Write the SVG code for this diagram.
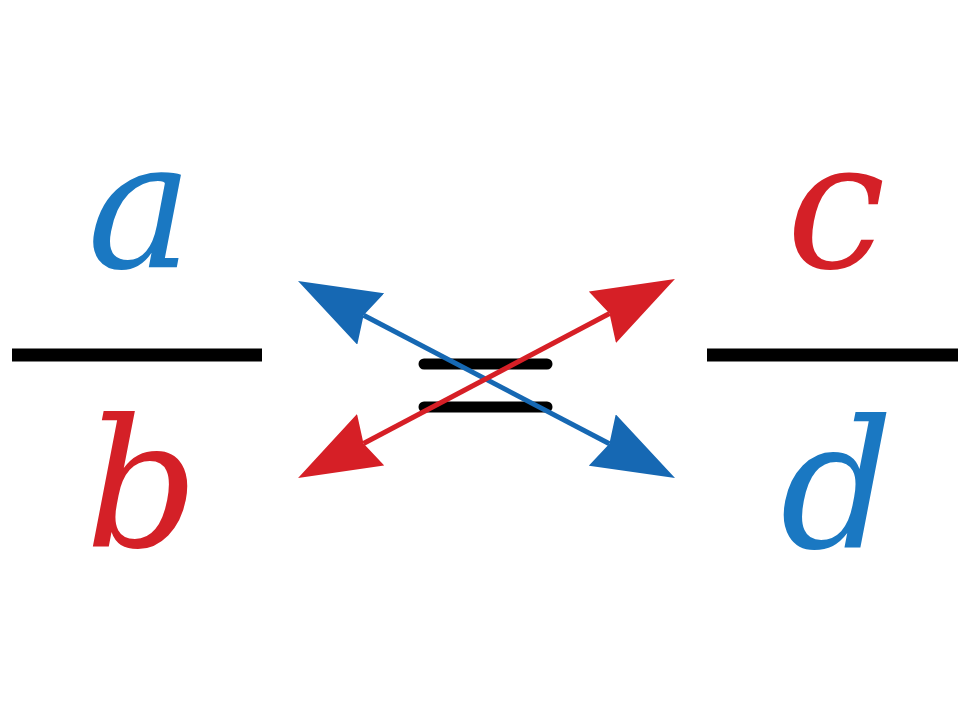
<svg xmlns="http://www.w3.org/2000/svg" width="963" height="708" viewBox="0 0 963 708">
  <style>
    .var { font-family: "DejaVu Serif", "Liberation Serif", serif; font-style: italic; font-size: 177px; text-anchor: middle; }
    .blue { fill: #1a78c2; }
    .red { fill: #d42027; }
    .bar { stroke: #000; stroke-width: 13; }
    .eq { stroke: #000; stroke-width: 11; stroke-linecap: round; }
    .arrow-blue { stroke: #1668b3; stroke-width: 5; fill: none; }
    .arrow-red { stroke: #d61f26; stroke-width: 5; fill: none; }
  </style>
  <defs>
    <marker id="headBlue" markerUnits="userSpaceOnUse" viewBox="0 -29 82 58" refX="8" refY="0" markerWidth="82" markerHeight="58" orient="auto-start-reverse">
      <path d="M82,0 L0,-29 L8,0 L0,29 Z" fill="#1668b3"/>
    </marker>
    <marker id="headRed" markerUnits="userSpaceOnUse" viewBox="0 -29 82 58" refX="8" refY="0" markerWidth="82" markerHeight="58" orient="auto-start-reverse">
      <path d="M82,0 L0,-29 L8,0 L0,29 Z" fill="#d61f26"/>
    </marker>
  </defs>
  <rect width="963" height="708" fill="#ffffff"/>
  <g id="fraction-left">
    <text class="var blue" x="140" y="267">a</text>
    <line class="bar" x1="12" y1="355" x2="262" y2="355"/>
    <text class="var red" x="142" y="546">b</text>
  </g>
  <g id="fraction-right">
    <text class="var red" x="836" y="267">c</text>
    <line class="bar" x1="707" y1="355" x2="958" y2="355"/>
    <text class="var blue" x="837" y="547">d</text>
  </g>
  <g id="equals">
    <line class="eq" x1="424" y1="364" x2="547" y2="364"/>
    <line class="eq" x1="424" y1="407" x2="547" y2="407"/>
  </g>
  <g id="connectors">
    <line class="arrow-blue" x1="363.6" y1="315.3" x2="609.4" y2="443.7" marker-start="url(#headBlue)" marker-end="url(#headBlue)"/>
    <line class="arrow-red" x1="363.5" y1="443.5" x2="609.5" y2="313.5" marker-start="url(#headRed)" marker-end="url(#headRed)"/>
  </g>
</svg>
